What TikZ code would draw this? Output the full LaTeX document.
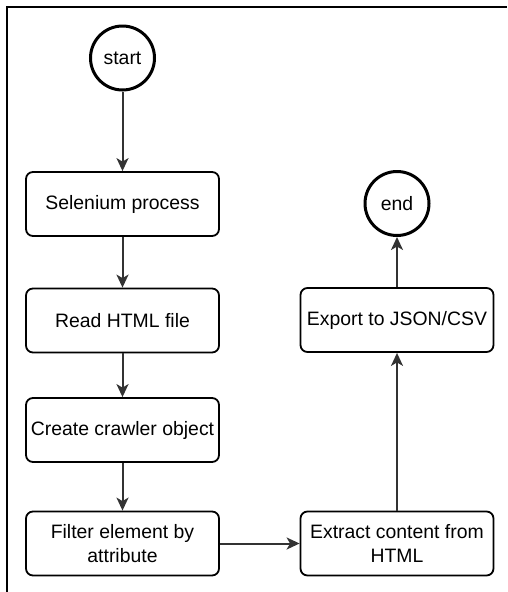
\documentclass[tikz,border=0pt]{standalone}
\usepackage{fontspec}
\setmainfont{Liberation Sans}
\usetikzlibrary{arrows.meta}
\begin{document}
\begin{tikzpicture}[x=1pt,y=-1pt,
  font=\fontsize{19.4}{23.3}\selectfont,
  stepbox/.style={draw=black, line width=1.8pt, rounded corners=7pt,
    minimum width=193pt, minimum height=64pt, inner sep=0pt,
    align=center, fill=white},
  terminal/.style={draw=black, line width=3pt, circle,
    minimum size=64pt, inner sep=0pt},
  flow/.style={draw=black!80, line width=2pt,
    -{Stealth[length=13pt, width=12pt, inset=3.5pt]}}]
  \useasboundingbox (0,0) rectangle (507,592);
  % outer frame (top and left edges)
  \draw[line width=2pt] (7,592) -- (7,7) -- (507,7);

  % left column
  \node[terminal] (start) at (122.5,58) {start};
  \node[stepbox] (sel) at (122.5,204) {Selenium process};
  \node[stepbox] (read) at (122.5,320.5) {Read HTML file};
  \node[stepbox] (crawl) at (122.5,430) {Create crawler object};
  \node[stepbox] (filter) at (122.5,543.5) {Filter element by\\attribute};

  % right column
  \node[stepbox] (extract) at (397,543.5) {Extract content from\\HTML};
  \node[stepbox] (export) at (397,320) {Export to JSON/CSV};
  \node[terminal] (end) at (397,203.5) {end};

  % connectors
  \draw[flow] (start) -- (sel);
  \draw[flow] (sel) -- (read);
  \draw[flow] (read) -- (crawl);
  \draw[flow] (crawl) -- (filter);
  \draw[flow] (filter) -- (extract);
  \draw[flow] (extract) -- (export);
  \draw[flow] (export) -- (end);
\end{tikzpicture}
\end{document}
